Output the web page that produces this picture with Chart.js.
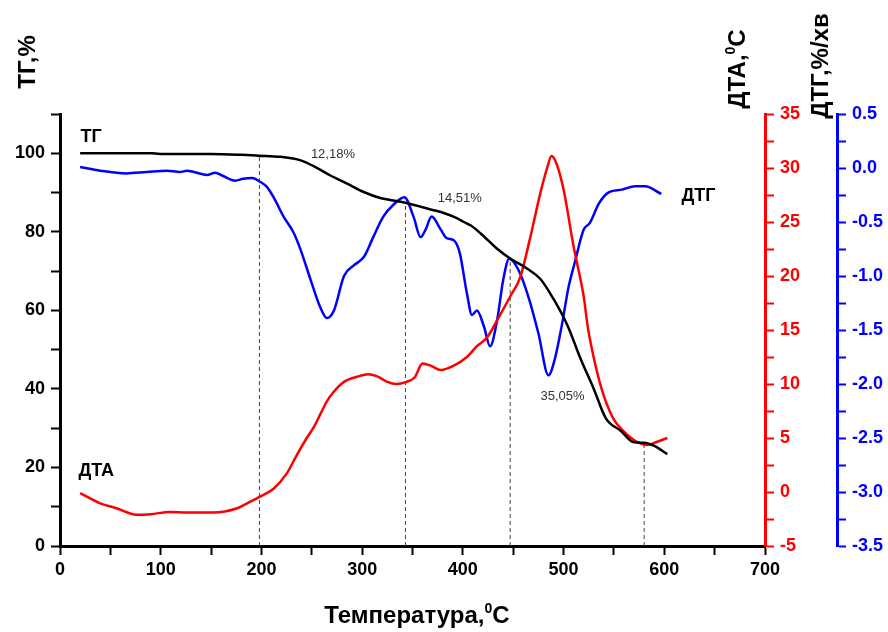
<!DOCTYPE html>
<html>
<head>
<meta charset="utf-8">
<script src="https://cdn.jsdelivr.net/npm/chart.js@4.4.1/dist/chart.umd.min.js"></script>
<style>
  body { margin: 0; background: #fff; }
</style>
</head>
<body>
<canvas id="thermoChart" width="888" height="632"></canvas>
<script>
// ТГ (mass loss), left axis
var tgTemp = [20, 50, 92, 102, 150, 180, 197, 219, 239, 255, 268, 285, 301, 318, 335, 343, 355, 368, 381, 394, 401, 408, 418, 434, 447, 464, 477, 490, 504, 517, 530, 542, 557, 570, 580, 590, 603];
var tgValues = [100, 100, 100, 99.8, 99.8, 99.6, 99.4, 99.1, 98.2, 96.3, 94.4, 92.3, 90.2, 88.6, 87.8, 87.4, 86.6, 85.7, 84.8, 83.5, 82.5, 81.6, 79.5, 75.7, 73.2, 70.6, 68.0, 62.9, 56.1, 47.6, 40.0, 32.5, 29.3, 26.4, 26.3, 25.5, 23.4];

// ДТА, red axis
var dtaTemp = [20, 40, 56, 76, 90, 109, 126, 152, 176, 189, 199, 212, 225, 235, 245, 252, 259, 265, 272, 282, 296, 306, 315, 325, 334, 344, 352, 360, 368, 378, 391, 404, 414, 424, 434, 447, 457, 467, 477, 484, 488, 493, 500, 510, 520, 524, 532, 540, 550, 560, 572, 583, 593, 603];
var dtaValues = [-0.1, -1.05, -1.5, -2.1, -2.05, -1.85, -1.9, -1.9, -1.5, -0.9, -0.4, 0.3, 1.7, 3.4, 5.0, 6.0, 7.3, 8.4, 9.3, 10.2, 10.7, 10.9, 10.7, 10.2, 10.0, 10.2, 10.6, 11.9, 11.7, 11.3, 11.7, 12.5, 13.5, 14.3, 15.9, 18.1, 19.9, 23.6, 27.7, 30.1, 31.1, 30.4, 28.0, 22.7, 18.1, 15.3, 11.6, 8.9, 6.7, 5.6, 4.7, 4.35, 4.65, 5.0];

// ДТГ, blue axis
var dtgTemp = [20, 40, 66, 86, 106, 119, 126, 133, 146, 154, 162, 174, 182, 191, 199, 205, 212, 222, 232, 239, 249, 258, 265, 272, 282, 292, 302, 311, 321, 331, 342, 351, 358, 363, 369, 378, 384, 391, 397, 404, 409, 414, 421, 427, 434, 440, 446, 455, 465, 475, 485, 491, 498, 505, 511, 520, 526, 535, 544, 558, 571, 581, 597];
var dtgValues = [0.01, -0.025, -0.05, -0.037, -0.025, -0.037, -0.025, -0.037, -0.065, -0.043, -0.074, -0.117, -0.099, -0.093, -0.13, -0.17, -0.27, -0.45, -0.6, -0.76, -1.04, -1.28, -1.39, -1.32, -1.0, -0.9, -0.82, -0.64, -0.45, -0.34, -0.27, -0.45, -0.64, -0.57, -0.45, -0.57, -0.65, -0.67, -0.79, -1.16, -1.36, -1.32, -1.47, -1.65, -1.41, -1.04, -0.84, -0.94, -1.19, -1.53, -1.92, -1.78, -1.47, -1.1, -0.88, -0.57, -0.51, -0.33, -0.23, -0.2, -0.17, -0.17, -0.24];

// dashed markers: temperature and where they meet the ТГ curve
var dashTemp = [198, 343, 447, 580];
var dashTop = [99.2, 87.6, 73.5, 26.4];

// mass loss notes
var notes = [
  {text: "12,18%", t: 271, v: 99.7},
  {text: "14,51%", t: 397, v: 88.4},
  {text: "35,05%", t: 499, v: 38.2}
];

var FONT = '"Liberation Sans", Arial, sans-serif';

function pairs(xs, ys) {
  return xs.map(function(x, i) { return {x: x, y: ys[i]}; });
}

var datasets = [];
dashTemp.forEach(function(t, i) {
  datasets.push({
    data: [{x: t, y: 0}, {x: t, y: dashTop[i]}],
    borderColor: '#444', borderWidth: 1, borderDash: [4, 3],
    pointRadius: 0, yAxisID: 'y', order: 5
  });
});
datasets.push({data: pairs(tgTemp, tgValues), borderColor: '#000', borderWidth: 2.5, pointRadius: 0, yAxisID: 'y', cubicInterpolationMode: 'monotone', order: 1});
datasets.push({data: pairs(dtaTemp, dtaValues), borderColor: '#ff0000', borderWidth: 2.5, pointRadius: 0, yAxisID: 'y2', cubicInterpolationMode: 'monotone', order: 2});
datasets.push({data: pairs(dtgTemp, dtgValues), borderColor: '#0000ff', borderWidth: 2.5, pointRadius: 0, yAxisID: 'y3', cubicInterpolationMode: 'monotone', order: 3});

function drawParts(ctx, parts, size) {
  var big = 'bold ' + size + 'px ' + FONT;
  var small = 'bold ' + Math.round(size * 0.6) + 'px ' + FONT;
  var w = 0;
  parts.forEach(function(p) { ctx.font = p.sup ? small : big; p.w = ctx.measureText(p.t).width; w += p.w; });
  var cx = -w / 2;
  ctx.textAlign = 'left';
  ctx.textBaseline = 'alphabetic';
  parts.forEach(function(p) {
    ctx.font = p.sup ? small : big;
    ctx.fillText(p.t, cx, p.sup ? -size * 0.42 : 0);
    cx += p.w;
  });
}

function drawTitle(ctx, parts, x, y, rotated) {
  ctx.save();
  ctx.translate(x, y);
  if (rotated) ctx.rotate(-Math.PI / 2);
  ctx.fillStyle = '#000';
  drawParts(ctx, parts, 24);
  ctx.restore();
}

var textPlugin = {
  id: 'texts',
  afterDraw: function(chart) {
    var ctx = chart.ctx, sx = chart.scales.x, sy = chart.scales.y;
    ctx.save();
    ctx.fillStyle = '#333';
    ctx.font = '13px ' + FONT;
    ctx.textAlign = 'center';
    ctx.textBaseline = 'middle';
    notes.forEach(function(n) {
      ctx.fillText(n.text, sx.getPixelForValue(n.t), sy.getPixelForValue(n.v));
    });
    ctx.fillStyle = '#000';
    ctx.font = 'bold 18px ' + FONT;
    ctx.fillText('ТГ', sx.getPixelForValue(31), sy.getPixelForValue(104.2));
    ctx.fillText('ДТА', sx.getPixelForValue(36), sy.getPixelForValue(19.1));
    ctx.fillText('ДТГ', sx.getPixelForValue(634), sy.getPixelForValue(89.2));
    ctx.restore();

    drawTitle(ctx, [{t: 'ТГ,%'}], 35, 62, true);
    drawTitle(ctx, [{t: 'ДТА,'}, {t: '0', sup: true}, {t: 'С'}], 745, 69, true);
    drawTitle(ctx, [{t: 'ДТГ,%/хв'}], 828, 66, true);
    drawTitle(ctx, [{t: 'Температура,'}, {t: '0', sup: true}, {t: 'С'}], 417, 623, false);
  }
};

function axis(color, tickFn, step, min, max, pos, w, weight) {
  return {
    type: 'linear', position: pos, min: min, max: max, weight: weight,
    ticks: {stepSize: step, callback: tickFn, color: color, padding: 6, autoSkip: false,
            font: {family: FONT, size: 18, weight: 'bold'}},
    grid: {drawOnChartArea: false, tickLength: 9, tickColor: color, tickWidth: 2},
    border: {color: color, width: 3},
    afterFit: function(s) { s.width = w; }
  };
}

new Chart(document.getElementById('thermoChart'), {
  type: 'line',
  data: {datasets: datasets},
  options: {
    responsive: false,
    animation: false,
    layout: {padding: {top: 114}},
    plugins: {legend: {display: false}, tooltip: {enabled: false}},
    scales: {
      x: {
        type: 'linear', min: 0, max: 700,
        ticks: {stepSize: 50, autoSkip: false, maxRotation: 0, color: '#000', padding: 4,
                font: {family: FONT, size: 18, weight: 'bold'},
                callback: function(v) { return v % 100 === 0 ? v : ''; }},
        grid: {drawOnChartArea: false, tickLength: 9, tickColor: '#000', tickWidth: 2},
        border: {color: '#000', width: 3},
        afterFit: function(s) { s.height = 86; }
      },
      y: axis('#000', function(v) { return v % 20 === 0 ? v : ''; }, 10, 0, 110, 'left', 60, 0),
      y2: axis('#ff0000', function(v) { return v % 5 === 0 ? v : ''; }, 2.5, -5, 35, 'right', 72, 0),
      y3: axis('#0000ff', function(v) { return Math.abs(v * 2 - Math.round(v * 2)) < 1e-6 ? v.toFixed(1) : ''; }, 0.25, -3.5, 0.5, 'right', 51, 1)
    }
  },
  plugins: [textPlugin]
});
</script>
</body>
</html>
